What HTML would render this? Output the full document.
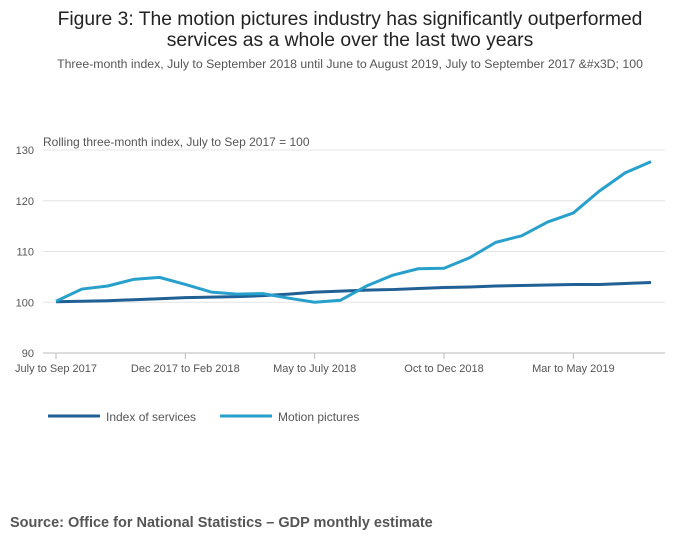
<!DOCTYPE html>
<html><head><meta charset="utf-8"><style>
body{margin:0;background:#fff;font-family:"Liberation Sans",sans-serif;}
#wrap{position:relative;width:700px;height:549px;overflow:hidden}
</style></head><body>
<div id="wrap">
<svg id="chart" width="700" height="549">
<text x="350" y="25" text-anchor="middle" font-size="19.3" fill="#222">Figure 3: The motion pictures industry has significantly outperformed</text>
<text x="350" y="46" text-anchor="middle" font-size="19.3" fill="#222">services as a whole over the last two years</text>
<text x="350" y="68" text-anchor="middle" font-size="12.3" fill="#555">Three-month index, July to September 2018 until June to August 2019, July to September 2017 &amp;#x3D; 100</text>
<text x="43" y="146" font-size="12" fill="#555">Rolling three-month index, July to Sep 2017 = 100</text>
<g id="grid"></g><g id="xax"></g><g id="series"></g>
<g>
<line x1="48" y1="416" x2="100" y2="416" stroke="#206095" stroke-width="3"/>
<text x="106" y="421" font-size="12" fill="#555">Index of services</text>
<line x1="220" y1="416" x2="272" y2="416" stroke="#27a0cc" stroke-width="3"/>
<text x="278" y="421" font-size="12" fill="#555">Motion pictures</text>
</g>
<text x="10" y="527" font-size="14.5" font-weight="bold" fill="#555">Source: Office for National Statistics – GDP monthly estimate</text>
</svg></div>
<script>
const yTicks=[90,100,110,120,130];
const xTickIdx=[0,5,10,15,20];
const xTickLabels=["July to Sep 2017","Dec 2017 to Feb 2018","May to July 2018","Oct to Dec 2018","Mar to May 2019"];
const services=[100.1,100.2,100.3,100.5,100.7,100.9,101.0,101.1,101.3,101.6,102.0,102.2,102.4,102.5,102.7,102.9,103.0,103.2,103.3,103.4,103.5,103.5,103.7,103.9];
const motion=[100.2,102.6,103.2,104.5,104.9,103.5,102.0,101.6,101.7,100.8,100.0,100.4,103.2,105.3,106.6,106.7,108.8,111.8,113.1,115.8,117.6,121.9,125.5,127.7];
const NS="http://www.w3.org/2000/svg";
const x=i=>56+i*(651-56)/23;
const y=v=>353-(v-90)*(353-150)/40;
function mk(t,a,p){const e=document.createElementNS(NS,t);for(const k in a)e.setAttribute(k,a[k]);p.appendChild(e);return e;}
const grid=document.getElementById('grid');
yTicks.forEach(v=>{
 const l=mk('line',{x1:43,x2:665,y1:y(v),y2:y(v),stroke:v===90?'#bbb':'#e4e4e4'},grid);
 
 
 const t=mk('text',{x:34,y:y(v)+4,'font-size':11,fill:'#555','text-anchor':'end'},grid);t.textContent=v;
 
 
});
const xax=document.getElementById('xax');
xTickIdx.forEach((i,k)=>{
 const l=mk('line',{x1:x(i),x2:x(i),y1:353,y2:359,stroke:'#bbb'},xax);
 
 
 const t=mk('text',{x:x(i),y:372,'font-size':11,fill:'#555','text-anchor':'middle'},xax);t.textContent=xTickLabels[k];
 
 
});
const sg=document.getElementById('series');
[[services,'#206095','line-services'],[motion,'#27a0cc','line-motion-pictures']].forEach(([d,c,n])=>{
 const p=mk('polyline',{points:d.map((v,i)=>x(i)+','+y(v)).join(' '),fill:'none',stroke:c,'stroke-width':3,'stroke-linejoin':'round'},sg);
 
 
});
</script>
</body></html>
